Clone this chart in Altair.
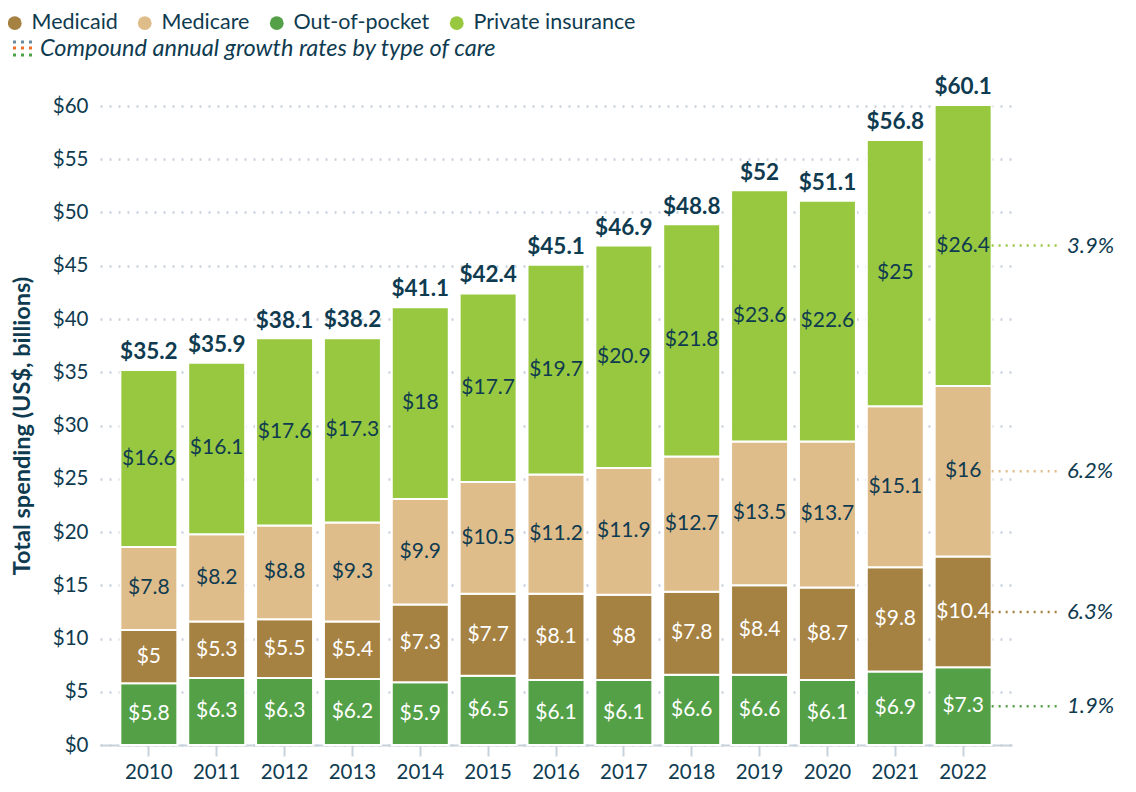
import altair as alt
import pandas as pd

years = [str(y) for y in range(2010, 2023)]
out_of_pocket = [5.8, 6.3, 6.3, 6.2, 5.9, 6.5, 6.1, 6.1, 6.6, 6.6, 6.1, 6.9, 7.3]
medicaid = [5, 5.3, 5.5, 5.4, 7.3, 7.7, 8.1, 8, 7.8, 8.4, 8.7, 9.8, 10.4]
medicare = [7.8, 8.2, 8.8, 9.3, 9.9, 10.5, 11.2, 11.9, 12.7, 13.5, 13.7, 15.1, 16]
private_ins = [16.6, 16.1, 17.6, 17.3, 18, 17.7, 19.7, 20.9, 21.8, 23.6, 22.6, 25, 26.4]
totals = [35.2, 35.9, 38.1, 38.2, 41.1, 42.4, 45.1, 46.9, 48.8, 52, 51.1, 56.8, 60.1]

categories = ["Out-of-pocket", "Medicaid", "Medicare", "Private insurance"]
cagr = ["1.9%", "6.3%", "6.2%", "3.9%"]
legend_order = ["Medicaid", "Medicare", "Out-of-pocket", "Private insurance"]
colors = {"Medicaid": "#a58142", "Medicare": "#dfbd8b", "Out-of-pocket": "#53a047", "Private insurance": "#97c83f"}
label_colors = {"Medicaid": "white", "Medicare": "#0f3b50", "Out-of-pocket": "white", "Private insurance": "#0f3b50"}

TEXT = "#0f3b50"
GRID = "#c7d2dc"
FONT = "Lato"

series = [out_of_pocket, medicaid, medicare, private_ins]
rows = []
for i, y in enumerate(years):
    base = 0.0
    for k, (cat, vals) in enumerate(zip(categories, series)):
        v = vals[i]
        rows.append({
            "year": y, "category": cat, "value": v, "order": k,
            "start": base, "end": base + v, "mid": base + v / 2,
            "label": f"${v:g}", "cagr": cagr[k],
            "lcolor": label_colors[cat],
        })
        base += v
df = pd.DataFrame(rows)
tot = pd.DataFrame({"year": years, "total": totals, "label": [f"${t:g}" for t in totals]})
last = df[df["year"] == years[-1]]

xenc = alt.X("year:N", title=None,
             scale=alt.Scale(paddingInner=0.16, paddingOuter=0.3),
             axis=alt.Axis(labelFontSize=20.5, labelColor=TEXT, labelFont=FONT, labelPadding=6,
                           domainColor=GRID, domainWidth=2, tickColor=GRID, tickWidth=2,
                           tickSize=11, labelAngle=0, grid=False))
yscale = alt.Scale(domain=[0, 60], nice=False)

bars = alt.Chart(df).mark_bar(stroke="white", strokeWidth=2).encode(
    x=xenc,
    y=alt.Y("start:Q", scale=yscale,
            title="Total spending (US$, billions)",
            axis=alt.Axis(values=list(range(0, 61, 5)), labelExpr="'$' + datum.value",
                          labelFontSize=20.5, labelColor=TEXT, labelFont=FONT, labelPadding=12,
                          domain=False, ticks=False, grid=True, gridColor=GRID,
                          gridDash=[2, 7], gridWidth=2.5,
                          titleFontSize=23.5, titleFont=FONT, titleFontWeight="bold",
                          titleColor=TEXT, titlePadding=18)),
    y2="end:Q",
    color=alt.Color("category:N",
                    scale=alt.Scale(domain=legend_order, range=[colors[c] for c in legend_order]),
                    legend=alt.Legend(orient="none", legendX=-96, legendY=-94, direction="horizontal",
                                      title=None, symbolType="circle", symbolSize=190,
                                      symbolStrokeWidth=0, labelFontSize=21.5, labelFont=FONT,
                                      labelColor=TEXT, columnPadding=16, labelOffset=6,
                                      labelLimit=400)),
    order=alt.Order("order:Q"),
)

seg_labels = alt.Chart(df).mark_text(fontSize=21, font=FONT, baseline="middle").encode(
    x=alt.X("year:N"),
    y=alt.Y("mid:Q", scale=yscale),
    text="label:N",
    color=alt.Color("lcolor:N", scale=None),
)

tot_labels = alt.Chart(tot).mark_text(fontSize=22.5, font=FONT, fontWeight="bold", color=TEXT,
                                      baseline="bottom", dy=-6).encode(
    x=alt.X("year:N"),
    y=alt.Y("total:Q", scale=yscale),
    text="label:N",
)

ann_rules = alt.Chart(last).mark_rule(strokeDash=[2, 5], strokeWidth=2.5).encode(
    x=alt.X("year:N", bandPosition=1),
    x2=alt.value(958),
    y=alt.Y("mid:Q", scale=yscale),
    color=alt.Color("category:N", scale=alt.Scale(domain=legend_order, range=[colors[c] for c in legend_order]), legend=None),
)
ann_text = alt.Chart(last).mark_text(fontSize=22, font=FONT, fontStyle="italic", color=TEXT,
                                     align="left", baseline="middle").encode(
    x=alt.value(967),
    y=alt.Y("mid:Q", scale=yscale),
    text="cagr:N",
)

icon_rows = pd.DataFrame({"row": ["a", "b", "c"], "col": ["#6b89a3", "#ef6f2d", "#4fa04a"],
                          "py": [-64, -58, -51]})
icon = alt.Chart(icon_rows).mark_rule(strokeDash=[3, 5], strokeWidth=3).encode(
    x=alt.value(-87), x2=alt.value(-66),
    y=alt.Y("py:Q", scale=None),
    color=alt.Color("col:N", scale=None),
)
sub_text = alt.Chart(pd.DataFrame({"t": ["Compound annual growth rates by type of care"]})).mark_text(
    fontSize=23.5, font=FONT, fontStyle="italic", color=TEXT, align="left", baseline="middle"
).encode(x=alt.value(-60), y=alt.value(-57), text="t:N")

chart = alt.layer(bars, seg_labels, tot_labels, ann_rules, ann_text, icon, sub_text).properties(
    width=912, height=639,
    autosize=alt.AutoSizeParams(type="none"),
    padding={"left": 92, "top": 98, "right": 116, "bottom": 40},
).configure_view(stroke=None)

chart.save("out.html", embed_options={"renderer": "svg", "actions": False})
